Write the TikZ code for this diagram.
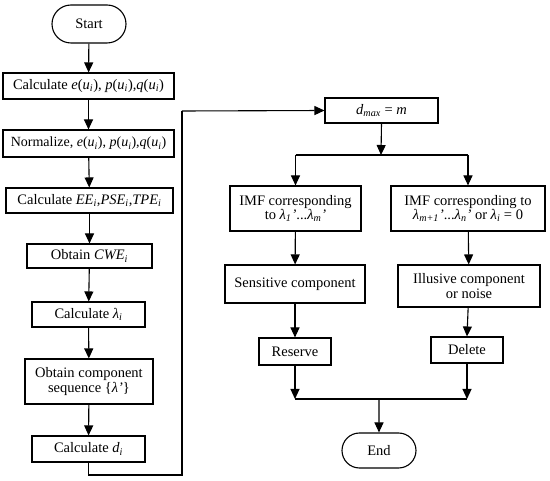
\documentclass[tikz,border=0pt]{standalone}
\usepackage{fontspec}
\setmainfont{Liberation Serif}
\usetikzlibrary{arrows.meta,shapes.misc}
\newcommand\sbi[1]{\textsubscript{\textit{#1}}}
\begin{document}
\begin{tikzpicture}[x=1pt,y=-1pt,
  box/.style={draw,line width=1.1pt,inner sep=0pt,align=center,font=\fontsize{14.5}{16.5}\selectfont},
  term/.style={box,rounded rectangle},
  arr/.style={line width=1.1pt,-{Triangle[length=10pt,width=9pt]}},
  ln/.style={line width=1.1pt}]
\useasboundingbox (0,0) rectangle (550,481);
\node[term,minimum width=74pt,minimum height=38pt] (start) at (89,24) {Start};
\node[box,minimum width=171pt,minimum height=26pt] (b1) at (88.5,86) {Calculate \textit{e}(\textit{u}\sbi{i}), \textit{p}(\textit{u}\sbi{i}),\textit{q}(\textit{u}\sbi{i})};
\node[box,minimum width=171pt,minimum height=27pt] (b2) at (88.5,143.5) {\fontsize{14}{16}\selectfont Normalize, \textit{e}(\textit{u}\sbi{i}), \textit{p}(\textit{u}\sbi{i}),\textit{q}(\textit{u}\sbi{i})};
\node[box,minimum width=167pt,minimum height=25pt] (b3) at (89.5,200.5) {Calculate \textit{EE}\sbi{i},\textit{PSE}\sbi{i},\textit{TPE}\sbi{i}};
\node[box,minimum width=125pt,minimum height=24pt] (b4) at (89.5,256) {Obtain \textit{CWE}\sbi{i}};
\node[box,minimum width=113pt,minimum height=25pt] (b5) at (88.5,314.5) {Calculate \textit{λ}\sbi{i}};
\node[box,minimum width=128pt,minimum height=45pt] (b6) at (89,381.5) {Obtain component\\[-2pt]sequence \{\textit{λ’}\}};
\node[box,minimum width=113pt,minimum height=26pt] (b7) at (88.5,449) {Calculate \textit{d}\sbi{i}};
\node[box,minimum width=113pt,minimum height=25pt] (dm) at (381.5,110.5) {\textit{d}\sbi{max} = \textit{m}};
\node[box,minimum width=131pt,minimum height=45pt] (l1) at (295.5,208.5) {IMF corresponding\\[-2pt]to \textit{λ}\sbi{1}\textit{’}...\textit{λ}\sbi{m}\textit{’}};
\node[box,minimum width=154pt,minimum height=45pt] (r1) at (468,208.5) {IMF corresponding to\\[-2pt]\textit{λ}\sbi{m+1}\textit{’}...\textit{λ}\sbi{n}\textit{’} or \textit{λ}\sbi{i} = 0};
\node[box,minimum width=140pt,minimum height=38pt] (l2) at (295,284) {Sensitive component};
\node[box,minimum width=142pt,minimum height=42pt] (r2) at (469,286) {Illusive component\\[-2pt]or noise};
\node[box,minimum width=72pt,minimum height=27pt] (l3) at (295,351.5) {Reserve};
\node[box,minimum width=72pt,minimum height=26pt] (r3) at (467,350) {Delete};
\node[term,minimum width=74pt,minimum height=35pt] (end) at (379,450.5) {End};
\coordinate (c1) at (88.5,475);
\coordinate (c2) at (182,475);
\coordinate (c3) at (182,111);
\coordinate (j1) at (381,155);
\coordinate (j2) at (379,399);
\draw[arr] (start) -- (b1);
\draw[arr] (b1) -- (b2);
\draw[arr] (b2) -- (b3);
\draw[arr] (b3) -- (b4);
\draw[arr] (b4) -- (b5);
\draw[arr] (b5) -- (b6);
\draw[arr] (b6) -- (b7);
\draw[ln] (b7.south) -- (c1) -- (c2) -- (c3);
\draw[arr] (c3) -- (dm.west);
\draw[arr] (dm.south) -- (j1);
\draw[ln] (l1.north |- j1) -- (r1.north |- j1);
\draw[arr] (l1.north |- j1) -- (l1.north);
\draw[arr] (r1.north |- j1) -- (r1.north);
\draw[arr] (l1) -- (l2);
\draw[arr] (r1) -- (r2);
\draw[arr] (l2) -- (l3);
\draw[arr] (r2) -- (r3.north);
\draw[arr] (l3.south) -- (l3.south |- j2);
\draw[arr] (r3.south) -- (r3.south |- j2);
\draw[ln] (l3.south |- j2) -- (r3.south |- j2);
\draw[arr] (j2) -- (end);
\end{tikzpicture}
\end{document}
